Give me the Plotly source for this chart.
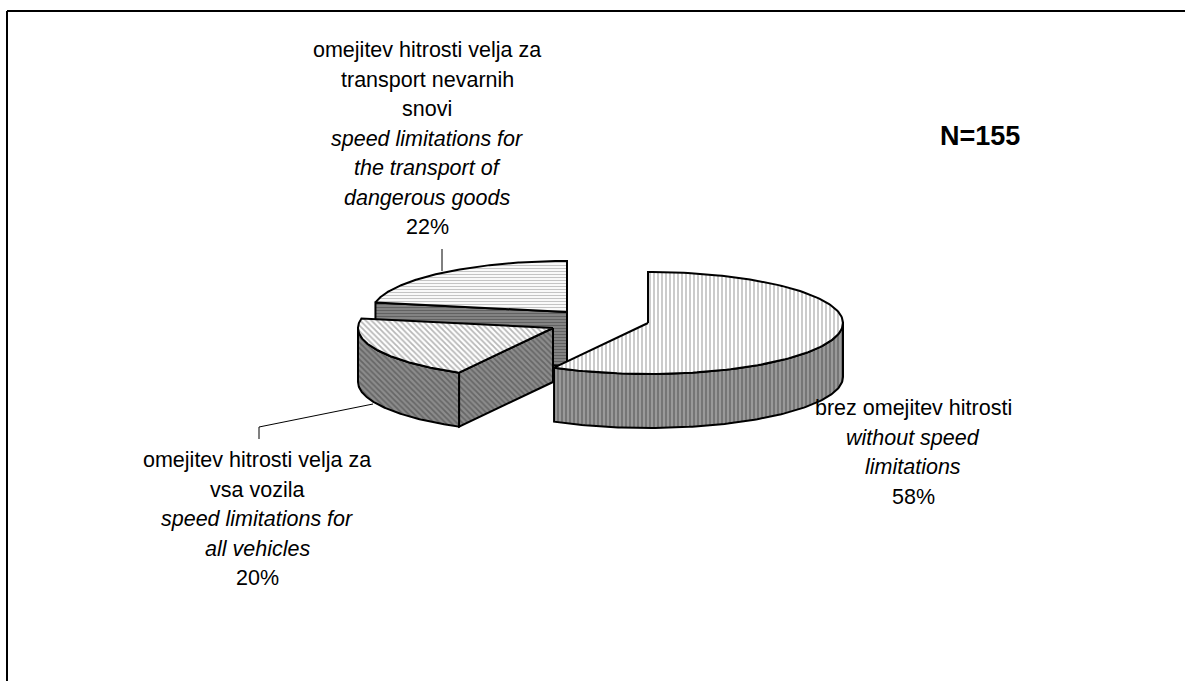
import numpy as np
import plotly.graph_objects as go

# ---------------- data ----------------
categories_sl = [
    ["brez omejitev hitrosti"],
    ["omejitev hitrosti velja za", "vsa vozila"],
    ["omejitev hitrosti velja za", "transport nevarnih", "snovi"],
]
categories_en = [
    ["without speed", "limitations"],
    ["speed limitations for", "all vehicles"],
    ["speed limitations for", "the transport of", "dangerous goods"],
]
values = [58, 20, 22]
n_label = "N=155"

# ---------------- style / layout parameters ----------------
W, H = 1185, 681
CX, CY = 567, 312          # pie centre (pixel-space axes)
RX, RY = 195, 51           # ellipse radii
DEPTH = 54                 # thickness of the 3D pie
explode = [(81, 11), (-14, 16), (0, 0)]
top_pat = [
    dict(shape="|", fgcolor="#6a6a6a", bgcolor="#ffffff", size=4, solidity=0.35),
    dict(shape="\\", fgcolor="#707070", bgcolor="#ffffff", size=4, solidity=0.45),
    dict(shape="-", fgcolor="#8a8a8a", bgcolor="#ffffff", size=3, solidity=0.4),
]
side_pat = [
    dict(shape="|", fgcolor="#404040", bgcolor="#9a9a9a", size=4, solidity=0.4),
    dict(shape="\\", fgcolor="#404040", bgcolor="#8c8c8c", size=4, solidity=0.45),
    dict(shape="-", fgcolor="#3a3a3a", bgcolor="#8a8a8a", size=3, solidity=0.45),
]
label_pos = [(913, 408), (257, 460), (427, 50)]
LINE_H = 29.5
FONT = "Liberation Sans, Arial, sans-serif"
FS = 21.5

fig = go.Figure()


def pt(cx, cy, a):
    r = np.radians(a)
    return cx + RX * np.cos(r), cy - RY * np.sin(r)


def poly(xs, ys, pat):
    fig.add_trace(go.Scatter(
        x=list(xs) + [xs[0]], y=list(ys) + [ys[0]], mode="lines",
        fill="toself", fillcolor=pat["bgcolor"], fillpattern=pat,
        line=dict(color="black", width=2), hoverinfo="skip", showlegend=False))


total = float(sum(values))
angles = []
a = 90.0
for v in values:
    span = 360.0 * v / total
    angles.append((a, a - span))   # clockwise
    a -= span

order = sorted(range(len(values)),
               key=lambda i: -np.sin(np.radians((angles[i][0] + angles[i][1]) / 2)))

for i in order:
    a1, a2 = angles[i]
    cx, cy = CX + explode[i][0], CY + explode[i][1]
    # cut faces
    for ang, sgn in ((a1, 90), (a2, -90)):
        if np.sin(np.radians(ang + sgn)) < -1e-6:
            ex, ey = pt(cx, cy, ang)
            poly([cx, ex, ex, cx], [cy, ey, ey + DEPTH, cy + DEPTH], side_pat[i])
    # outer side (front half only)
    lo, hi = a2, a1
    segs = []
    for k0 in range(-2, 3):
        s0, s1 = 180 + 360 * k0, 360 + 360 * k0
        l, h = max(lo, s0), min(hi, s1)
        if h > l:
            segs.append((l, h))
    for l, h in segs:
        th = np.linspace(h, l, 120)
        xs, ys = pt(cx, cy, th)
        poly(list(xs) + list(xs[::-1]), list(ys) + list((ys + DEPTH)[::-1]), side_pat[i])
    # top face
    th = np.linspace(a1, a2, 160)
    xs, ys = pt(cx, cy, th)
    poly([cx] + list(xs), [cy] + list(ys), top_pat[i])

# leader lines
fig.add_trace(go.Scatter(x=[442, 442], y=[249, 271], mode="lines",
                         line=dict(color="black", width=1), hoverinfo="skip", showlegend=False))
fig.add_trace(go.Scatter(x=[259, 259, 373], y=[439, 427, 404], mode="lines",
                         line=dict(color="black", width=1), hoverinfo="skip", showlegend=False))

# labels
annotations = []
for i, v in enumerate(values):
    lines = list(categories_sl[i]) + ["<i>%s</i>" % t for t in categories_en[i]] + ["%d%%" % v]
    x0, y0 = label_pos[i]
    for j, t in enumerate(lines):
        annotations.append(dict(x=x0, y=y0 + j * LINE_H, xref="x", yref="y", text=t,
                                showarrow=False, xanchor="center", yanchor="middle",
                                font=dict(family=FONT, size=FS, color="black")))
annotations.append(dict(x=980, y=136, xref="x", yref="y", text="<b>%s</b>" % n_label,
                        showarrow=False, xanchor="center", yanchor="middle",
                        font=dict(family=FONT, size=27, color="black")))

# chart frame (top and left edges visible)
shapes = [
    dict(type="line", xref="x", yref="y", x0=7, y0=11, x1=1190, y1=11,
         line=dict(color="black", width=2)),
    dict(type="line", xref="x", yref="y", x0=7, y0=11, x1=7, y1=690,
         line=dict(color="black", width=2)),
]

fig.update_layout(
    width=W, height=H, margin=dict(l=0, r=0, t=0, b=0),
    paper_bgcolor="white", plot_bgcolor="white",
    xaxis=dict(range=[0, W], visible=False, fixedrange=True),
    yaxis=dict(range=[H, 0], visible=False, fixedrange=True),
    annotations=annotations, shapes=shapes, showlegend=False,
)

fig.write_html("out.html", config={"displayModeBar": False},
               post_script="document.body.style.margin='0px';"
                           "document.body.style.overflow='hidden';")
